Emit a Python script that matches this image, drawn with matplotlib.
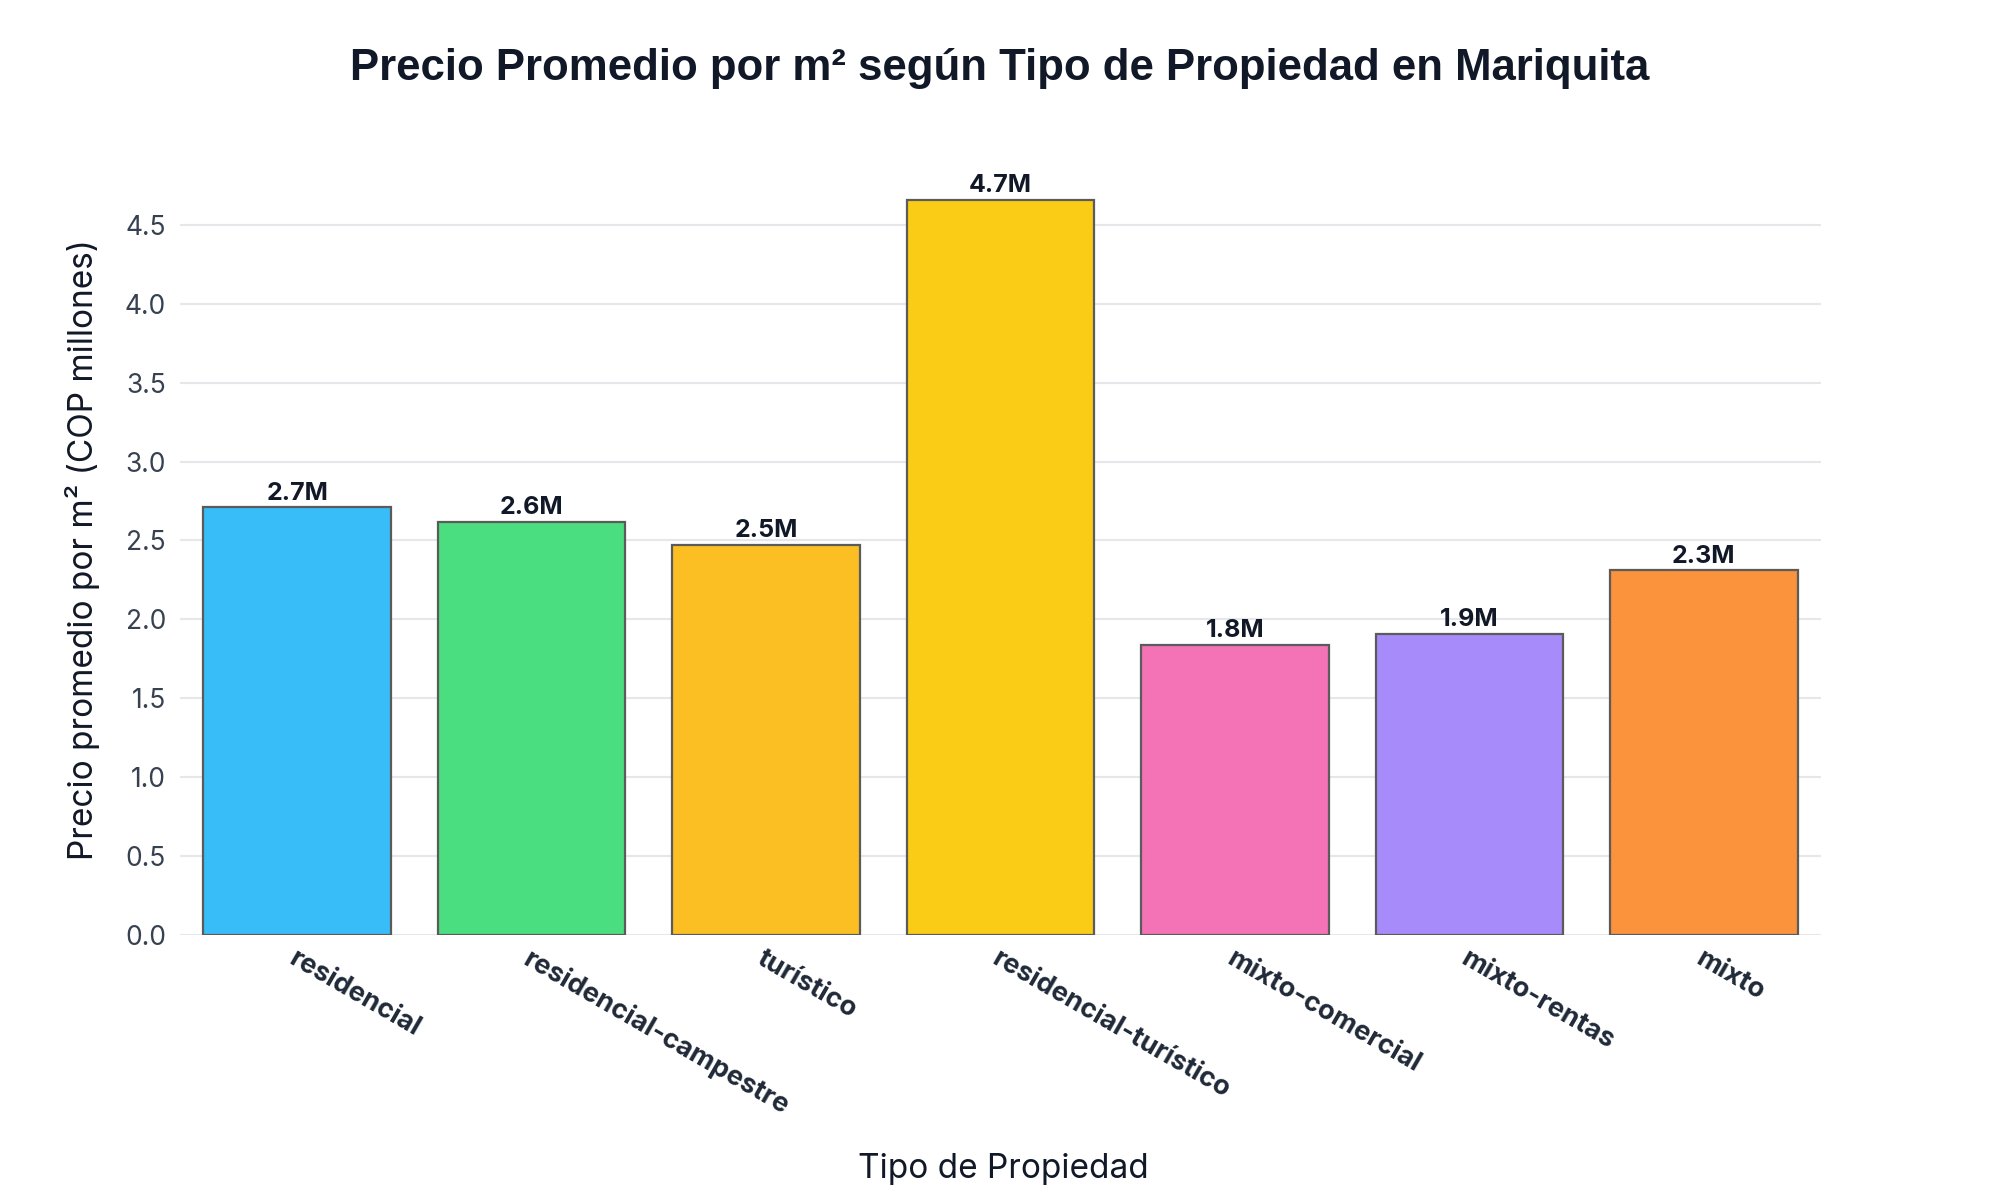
import matplotlib.pyplot as plt

# Datos del grafico
tipos = ["residencial", "residencial-campestre", "turístico", "residencial-turístico",
         "mixto-comercial", "mixto-rentas", "mixto"]
precios = [2.71, 2.62, 2.47, 4.66, 1.84, 1.91, 2.31]
etiquetas = ["2.7M", "2.6M", "2.5M", "4.7M", "1.8M", "1.9M", "2.3M"]
colores = ["#38BDF8", "#4ADE80", "#FBBF24", "#FACC15", "#F472B6", "#A78BFA", "#FB923C"]

plt.rcParams["font.family"] = ["Inter", "DejaVu Sans"]

fig = plt.figure(figsize=(20, 12), dpi=100)
ax = fig.add_axes([0.09, 0.221, 0.8205, 0.6467])

x = list(range(len(tipos)))
bars = ax.bar(x, precios, width=0.8, color=colores, edgecolor="#5B5B5B",
              linewidth=1.6, zorder=3)

# Etiquetas encima de cada barra
for b, txt in zip(bars, etiquetas):
    ax.annotate(txt, (b.get_x() + b.get_width() / 2, b.get_height()),
                xytext=(0, 2), textcoords="offset points", ha="center", va="bottom",
                fontsize=18, fontweight="bold", color="#111827")

ax.set_xlim(-0.5, len(tipos) - 0.5)
ax.set_ylim(0, 4.92)
ax.set_yticks([0, 0.5, 1.0, 1.5, 2.0, 2.5, 3.0, 3.5, 4.0, 4.5])
ax.set_yticklabels([f"{v:.1f}" for v in ax.get_yticks()], fontsize=19, color="#374151")
ax.set_xticks(x)
ax.set_xticklabels(tipos, rotation=-30, ha="left", va="top", rotation_mode="anchor",
                   fontsize=19.5, fontweight="bold", color="#1F2937")
ax.tick_params(axis="both", length=0)
ax.tick_params(axis="x", pad=8)
ax.tick_params(axis="y", pad=10)

ax.grid(True, axis="y", color="#E5E7EB", linewidth=1.5, zorder=0)
for s in ax.spines.values():
    s.set_visible(False)

fig.text(0.5, 0.943, "Precio Promedio por m² según Tipo de Propiedad en Mariquita",
         ha="center", va="center", fontsize=31.5, fontweight="bold", color="#111827",
         family=["Liberation Sans", "DejaVu Sans"])
fig.text(0.0415, 0.5417, "Precio promedio por m² (COP millones)", rotation=90,
         ha="center", va="center", fontsize=24, color="#111827")
fig.text(0.5015, 0.026, "Tipo de Propiedad", ha="center", va="center",
         fontsize=24, color="#111827")

plt.savefig("out.png", dpi=100)
